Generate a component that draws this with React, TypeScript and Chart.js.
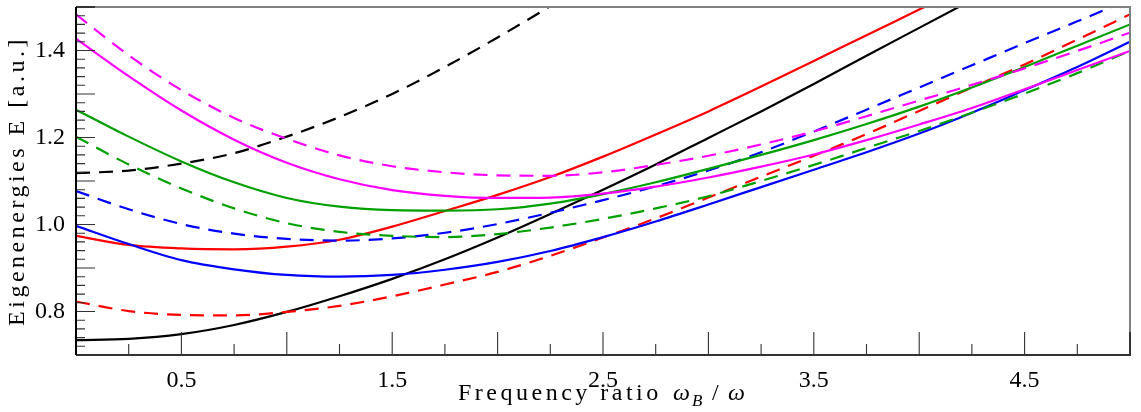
import { useEffect, useRef } from "react";
import { Chart, registerables } from "chart.js";

Chart.register(...registerables);

const SERIF = "'Liberation Serif'";

// Frequency ratio ω_B/ω sampled every 0.25
const freqRatio = [0, 0.25, 0.5, 0.75, 1, 1.25, 1.5, 1.75, 2, 2.25, 2.5, 2.75, 3, 3.25, 3.5, 3.75, 4, 4.25, 4.5, 4.75, 5];

// Eigenenergies (a.u.) for each level; solid and dashed branches per colour
const blackSolid = [0.734, 0.737, 0.748, 0.769, 0.799, 0.835, 0.875, 0.920, 0.970, 1.024, 1.080, 1.138, 1.199, 1.260, 1.323, 1.388, 1.452, 1.516];
const blackDashed = [1.118, 1.124, 1.140, 1.164, 1.202, 1.247, 1.300, 1.362, 1.430, 1.502, 1.578];
const redSolid = [0.974, 0.953, 0.945, 0.943, 0.949, 0.965, 0.995, 1.031, 1.068, 1.109, 1.156, 1.207, 1.260, 1.317, 1.376, 1.435, 1.494, 1.553];
const redDashed = [0.823, 0.801, 0.792, 0.791, 0.799, 0.813, 0.835, 0.862, 0.891, 0.928, 0.970, 1.014, 1.062, 1.110, 1.158, 1.208, 1.261, 1.315, 1.368, 1.425, 1.483];
const blueSolid = [0.997, 0.955, 0.918, 0.897, 0.884, 0.880, 0.884, 0.896, 0.914, 0.939, 0.971, 1.007, 1.046, 1.086, 1.126, 1.166, 1.209, 1.257, 1.309, 1.362, 1.420];
const blueDashed = [1.077, 1.035, 1.001, 0.979, 0.967, 0.963, 0.968, 0.981, 1.001, 1.027, 1.056, 1.088, 1.124, 1.166, 1.214, 1.264, 1.315, 1.366, 1.417, 1.467, 1.518];
const greenSolid = [1.264, 1.202, 1.145, 1.097, 1.061, 1.041, 1.033, 1.032, 1.035, 1.048, 1.070, 1.097, 1.128, 1.160, 1.194, 1.231, 1.271, 1.315, 1.362, 1.411, 1.460];
const greenDashed = [1.202, 1.138, 1.083, 1.037, 1.003, 0.983, 0.974, 0.971, 0.978, 0.993, 1.013, 1.037, 1.065, 1.100, 1.137, 1.176, 1.215, 1.257, 1.301, 1.348, 1.399];
const magentaSolid = [1.427, 1.341, 1.262, 1.195, 1.142, 1.104, 1.079, 1.066, 1.061, 1.062, 1.071, 1.087, 1.108, 1.133, 1.161, 1.194, 1.230, 1.268, 1.311, 1.355, 1.399];
const magentaDashed = [1.483, 1.389, 1.309, 1.245, 1.197, 1.159, 1.134, 1.120, 1.113, 1.112, 1.120, 1.137, 1.158, 1.184, 1.214, 1.249, 1.285, 1.321, 1.359, 1.399, 1.441];

// Axis labels
const xLabelValues = [0.5, 1.5, 2.5, 3.5, 4.5];
const yLabelValues = [0.8, 1.0, 1.2, 1.4];

const BLACK = "#000000";
const RED = "#ff0000";
const BLUE = "#0000ff";
const GREEN = "#00a000";
const MAGENTA = "#ff00ff";
const DASH = [14, 9];

function toPoints(values: number[]) {
  return values.map((y, i) => ({ x: freqRatio[i], y }));
}

function series(values: number[], color: string, dashed: boolean) {
  return {
    data: toPoints(values),
    borderColor: color,
    backgroundColor: color,
    borderWidth: 2.2,
    borderDash: dashed ? DASH : [],
    pointRadius: 0,
    fill: false,
    clip: 0,
    cubicInterpolationMode: "monotone" as const,
  };
}

// Inward tick marks, frame and axis titles
const frameAndTitles = {
  id: "frameAndTitles",
  afterDatasetsDraw(chart: any) {
    const { ctx, chartArea: a, scales } = chart;
    const xs = scales.x;
    const ys = scales.y;
    ctx.save();

    ctx.strokeStyle = "#333333";
    ctx.lineWidth = 1.1;
    ctx.beginPath();
    for (let i = 0; i <= 40; i++) {
      const py = ys.getPixelForValue(0.7 + i * 0.02);
      const len = i % 5 === 0 ? 19 : 9;
      ctx.moveTo(a.left, py);
      ctx.lineTo(a.left + len, py);
    }
    for (let i = 0; i <= 20; i++) {
      const px = xs.getPixelForValue(i * 0.25);
      const len = i % 2 === 0 ? 23 : 11;
      ctx.moveTo(px, a.bottom);
      ctx.lineTo(px, a.bottom - len);
    }
    ctx.stroke();

    ctx.lineWidth = 2;
    ctx.strokeStyle = "#808080";
    ctx.beginPath();
    ctx.moveTo(a.left + 19, a.top);
    ctx.lineTo(a.right, a.top);
    ctx.lineTo(a.right, a.bottom - 23);
    ctx.stroke();

    ctx.strokeStyle = "#333333";
    ctx.beginPath();
    ctx.moveTo(a.left, a.top);
    ctx.lineTo(a.left + 19, a.top);
    ctx.moveTo(a.right, a.bottom - 23);
    ctx.lineTo(a.right, a.bottom);
    ctx.lineTo(a.left, a.bottom);
    ctx.stroke();

    ctx.strokeStyle = "#000000";
    ctx.beginPath();
    ctx.moveTo(a.left, a.top);
    ctx.lineTo(a.left, a.bottom);
    ctx.stroke();
    ctx.restore();
  },
  afterDraw(chart: any) {
    const { ctx, chartArea: a } = chart;
    ctx.save();
    ctx.fillStyle = "#000";
    ctx.textBaseline = "alphabetic";

    // y title
    ctx.save();
    ctx.translate(24, (a.top + a.bottom) / 2);
    ctx.rotate(-Math.PI / 2);
    ctx.font = `24px ${SERIF}`;
    (ctx as any).letterSpacing = "3.5px";
    ctx.textAlign = "center";
    ctx.fillText("Eigenenergies E [a.u.]", 0, 0);
    ctx.restore();

    // x title
    const base = 400;
    ctx.textAlign = "left";
    ctx.font = `24px ${SERIF}`;
    (ctx as any).letterSpacing = "3.5px";
    ctx.fillText("Frequency ratio", 458, base);
    (ctx as any).letterSpacing = "0px";
    ctx.font = `italic 24px ${SERIF}`;
    ctx.fillText("\u03c9", 673, base);
    ctx.font = `italic 17px ${SERIF}`;
    ctx.fillText("B", 692, base + 6);
    ctx.font = `24px ${SERIF}`;
    ctx.fillText("/", 712, base);
    ctx.font = `italic 24px ${SERIF}`;
    ctx.fillText("\u03c9", 728, base);
    ctx.restore();
  },
};

function noEdgePadding(s: any) {
  s.paddingTop = 0;
  s.paddingBottom = 0;
  s.paddingLeft = 0;
  s.paddingRight = 0;
}

export default function App() {
  const canvasRef = useRef<HTMLCanvasElement | null>(null);

  useEffect(() => {
    const canvas = canvasRef.current;
    if (!canvas) return;
    Chart.defaults.font.family = SERIF;

    const chart = new Chart(canvas, {
      type: "line",
      data: {
        datasets: [
          series(magentaSolid, MAGENTA, false),
          series(magentaDashed, MAGENTA, true),
          series(greenSolid, GREEN, false),
          series(greenDashed, GREEN, true),
          series(blueSolid, BLUE, false),
          series(blueDashed, BLUE, true),
          series(redSolid, RED, false),
          series(redDashed, RED, true),
          series(blackSolid, BLACK, false),
          series(blackDashed, BLACK, true),
        ] as any,
      },
      options: {
        responsive: false,
        animation: false,
        devicePixelRatio: 1,
        layout: { padding: { top: 7, right: 11, left: 0, bottom: 0 } },
        plugins: { legend: { display: false }, tooltip: { enabled: false }, title: { display: false } },
        scales: {
          x: {
            type: "linear",
            min: 0,
            max: 5,
            grid: { display: false, drawTicks: false },
            border: { display: false },
            afterBuildTicks: (s: any) => {
              s.ticks = xLabelValues.map((value) => ({ value }));
            },
            afterFit: (s: any) => {
              s.height = 57;
              noEdgePadding(s);
            },
            ticks: {
              font: { family: SERIF, size: 24 },
              color: "#000",
              padding: 11,
              maxRotation: 0,
              autoSkip: false,
              callback: (v: any) => Number(v).toFixed(1),
            },
          },
          y: {
            type: "linear",
            min: 0.7,
            max: 1.5,
            grid: { display: false, drawTicks: false },
            border: { display: false },
            afterBuildTicks: (s: any) => {
              s.ticks = yLabelValues.map((value) => ({ value }));
            },
            afterFit: (s: any) => {
              s.width = 76;
              noEdgePadding(s);
            },
            ticks: {
              font: { family: SERIF, size: 24 },
              color: "#000",
              padding: 11,
              autoSkip: false,
              callback: (v: any) => Number(v).toFixed(1),
            },
          },
        },
      } as any,
      plugins: [frameAndTitles],
    });

    return () => chart.destroy();
  }, []);

  return (
    <div style={{ position: "absolute", left: 0, top: 0, width: 1141, height: 412, background: "#fff" }}>
      <canvas ref={canvasRef} width={1141} height={412} />
    </div>
  );
}
